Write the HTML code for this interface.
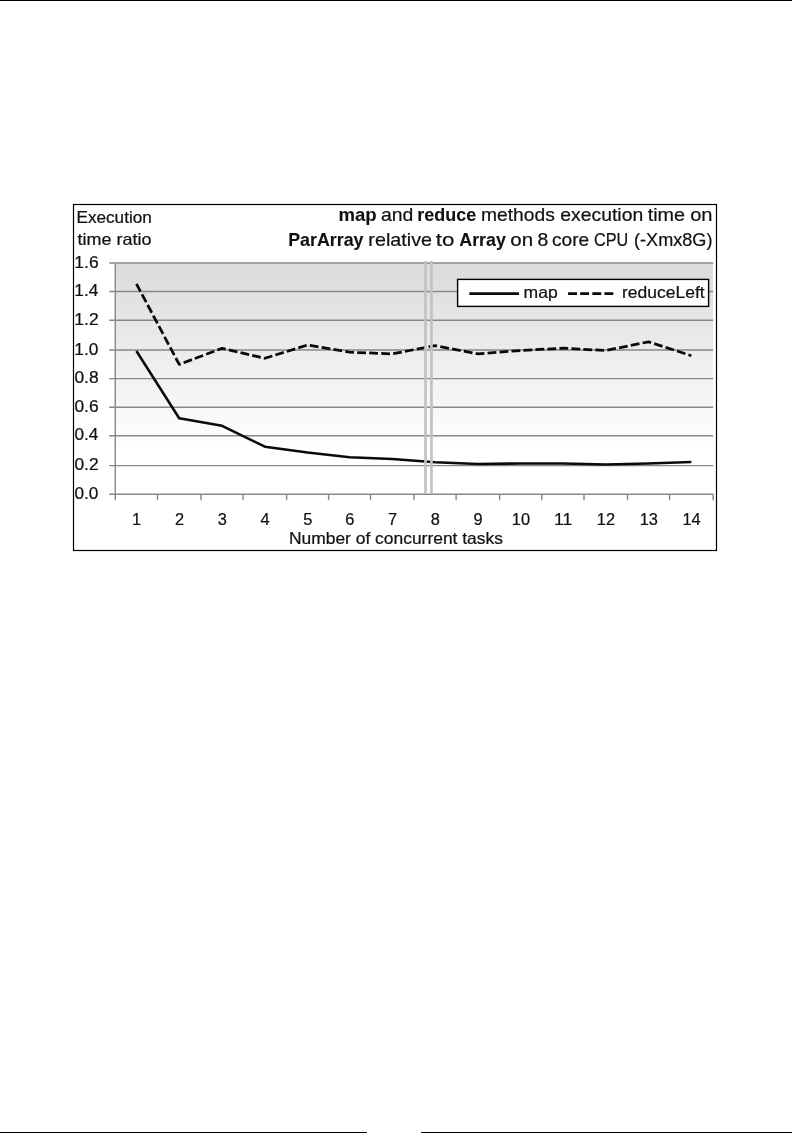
<!DOCTYPE html>
<html lang="en"><head><meta charset="utf-8"><title>ParArray chart</title>
<style>
html,body{margin:0;padding:0;background:#fff;}
body{width:792px;height:1142px;position:relative;overflow:hidden;font-family:"Liberation Sans",sans-serif;}
svg{position:absolute;left:0;top:0;}
text{font-family:"Liberation Sans",sans-serif;fill:#111;stroke:#111;stroke-width:0.22px;}
.b{font-weight:bold;stroke-width:0.1px;}
</style></head><body>
<svg width="792" height="1142" viewBox="0 0 792 1142">
<defs><linearGradient id="g" x1="0" y1="0" x2="0" y2="1">
<stop offset="0" stop-color="#dbdbdb"/><stop offset="0.8" stop-color="#ffffff"/><stop offset="1" stop-color="#ffffff"/></linearGradient></defs>
<rect x="0" y="0" width="792" height="1" fill="#000"/>
<rect x="0" y="1132" width="367" height="1" fill="#000"/>
<rect x="421" y="1132" width="371" height="1" fill="#000"/>
<rect x="73.5" y="204.5" width="643" height="346" fill="#fff" stroke="#000" stroke-width="1.2"/>

<rect x="115.3" y="263.0" width="597.7" height="231.3" fill="url(#g)"/>
<line x1="109.2" x2="713.2" y1="263.0" y2="263.0" stroke="#888888" stroke-width="1.45"/>
<line x1="109.2" x2="713.2" y1="291.4" y2="291.4" stroke="#888888" stroke-width="1.45"/>
<line x1="109.2" x2="713.2" y1="320.2" y2="320.2" stroke="#888888" stroke-width="1.45"/>
<line x1="109.2" x2="713.2" y1="350.0" y2="350.0" stroke="#888888" stroke-width="1.45"/>
<line x1="109.2" x2="713.2" y1="378.6" y2="378.6" stroke="#888888" stroke-width="1.45"/>
<line x1="109.2" x2="713.2" y1="407.3" y2="407.3" stroke="#888888" stroke-width="1.45"/>
<line x1="109.2" x2="713.2" y1="435.8" y2="435.8" stroke="#888888" stroke-width="1.45"/>
<line x1="109.2" x2="713.2" y1="465.6" y2="465.6" stroke="#888888" stroke-width="1.45"/>
<line x1="109.2" x2="713.2" y1="494.3" y2="494.3" stroke="#888888" stroke-width="1.45"/>
<line x1="115.3" x2="115.3" y1="263.0" y2="494.3" stroke="#888888" stroke-width="1.45"/>
<line x1="115.3" x2="115.3" y1="494.3" y2="500.2" stroke="#888888" stroke-width="1.45"/>
<line x1="157.5" x2="157.5" y1="494.3" y2="500.2" stroke="#888888" stroke-width="1.45"/>
<line x1="201.0" x2="201.0" y1="494.3" y2="500.2" stroke="#888888" stroke-width="1.45"/>
<line x1="243.1" x2="243.1" y1="494.3" y2="500.2" stroke="#888888" stroke-width="1.45"/>
<line x1="286.6" x2="286.6" y1="494.3" y2="500.2" stroke="#888888" stroke-width="1.45"/>
<line x1="328.6" x2="328.6" y1="494.3" y2="500.2" stroke="#888888" stroke-width="1.45"/>
<line x1="370.5" x2="370.5" y1="494.3" y2="500.2" stroke="#888888" stroke-width="1.45"/>
<line x1="414.0" x2="414.0" y1="494.3" y2="500.2" stroke="#888888" stroke-width="1.45"/>
<line x1="456.1" x2="456.1" y1="494.3" y2="500.2" stroke="#888888" stroke-width="1.45"/>
<line x1="499.6" x2="499.6" y1="494.3" y2="500.2" stroke="#888888" stroke-width="1.45"/>
<line x1="541.8" x2="541.8" y1="494.3" y2="500.2" stroke="#888888" stroke-width="1.45"/>
<line x1="584.0" x2="584.0" y1="494.3" y2="500.2" stroke="#888888" stroke-width="1.45"/>
<line x1="627.5" x2="627.5" y1="494.3" y2="500.2" stroke="#888888" stroke-width="1.45"/>
<line x1="669.6" x2="669.6" y1="494.3" y2="500.2" stroke="#888888" stroke-width="1.45"/>
<line x1="713.1" x2="713.1" y1="494.3" y2="500.2" stroke="#888888" stroke-width="1.45"/>
<polyline points="136.4,351.0 179.2,418.3 222.1,425.8 264.9,446.7 307.6,452.6 349.6,457.2 392.2,458.9 435.1,462.2 477.9,463.9 520.7,463.5 562.9,463.5 605.8,464.6 648.5,463.5 691.4,462.0" fill="none" stroke="#0a0a0a" stroke-width="2.55" stroke-linejoin="round"/>
<polyline points="136.4,283.8 179.2,364.4 222.1,348.3 264.9,358.3 307.6,345.0 349.6,352.2 392.2,353.9 435.1,345.6 477.9,353.9 520.7,350.5 562.9,348.2 605.8,350.5 648.5,341.8 691.4,355.7" fill="none" stroke="#0a0a0a" stroke-width="2.75" stroke-dasharray="8.8 3.2" stroke-linejoin="round"/>
<line x1="425.5" x2="425.5" y1="261" y2="493.7" stroke="#c2c2c2" stroke-width="2.7"/>
<line x1="431.45" x2="431.45" y1="261" y2="493.7" stroke="#c2c2c2" stroke-width="2.7"/>
<rect x="457.6" y="279.4" width="251" height="27" fill="#fff" stroke="#000" stroke-width="1.4"/>
<line x1="469.4" x2="519" y1="293.6" y2="293.6" stroke="#0a0a0a" stroke-width="2.55"/>
<line x1="568.1" x2="613.5" y1="293.6" y2="293.6" stroke="#0a0a0a" stroke-width="2.55" stroke-dasharray="8.9 3.2"/>
<text x="523.54" y="297.8" textLength="34.11" lengthAdjust="spacingAndGlyphs" font-size="16.5">map</text>
<text x="622.04" y="297.8" textLength="82.61" lengthAdjust="spacingAndGlyphs" font-size="16.5">reduceLeft</text>
<text x="76.50" y="223.0" textLength="75.31" lengthAdjust="spacingAndGlyphs" font-size="16.5">Execution</text>
<text x="77.53" y="245.3" textLength="73.94" lengthAdjust="spacingAndGlyphs" font-size="16.5">time ratio</text>
<text x="74.34" y="267.5" textLength="24.28" lengthAdjust="spacingAndGlyphs" font-size="16">1.6</text>
<text x="74.35" y="295.9" textLength="23.99" lengthAdjust="spacingAndGlyphs" font-size="16">1.4</text>
<text x="74.34" y="324.7" textLength="24.28" lengthAdjust="spacingAndGlyphs" font-size="16">1.2</text>
<text x="74.35" y="354.5" textLength="23.99" lengthAdjust="spacingAndGlyphs" font-size="16">1.0</text>
<text x="74.46" y="383.1" textLength="24.16" lengthAdjust="spacingAndGlyphs" font-size="16">0.8</text>
<text x="74.46" y="411.8" textLength="24.16" lengthAdjust="spacingAndGlyphs" font-size="16">0.6</text>
<text x="74.46" y="440.2" textLength="23.87" lengthAdjust="spacingAndGlyphs" font-size="16">0.4</text>
<text x="74.46" y="470.1" textLength="24.16" lengthAdjust="spacingAndGlyphs" font-size="16">0.2</text>
<text x="74.46" y="498.8" textLength="23.87" lengthAdjust="spacingAndGlyphs" font-size="16">0.0</text>
<text x="288.98" y="543.8" textLength="213.93" lengthAdjust="spacingAndGlyphs" font-size="16.5">Number of concurrent tasks</text>
<text x="338.54" y="221.0" textLength="38.20" lengthAdjust="spacingAndGlyphs" font-size="18.4" class="b">map</text>
<text x="381.01" y="221.0" textLength="32.34" lengthAdjust="spacingAndGlyphs" font-size="18.4">and</text>
<text x="417.28" y="221.0" textLength="58.87" lengthAdjust="spacingAndGlyphs" font-size="18.4" class="b">reduce</text>
<text x="481.09" y="221.0" textLength="73.74" lengthAdjust="spacingAndGlyphs" font-size="18.4">methods</text>
<text x="560.31" y="221.0" textLength="82.89" lengthAdjust="spacingAndGlyphs" font-size="18.4">execution</text>
<text x="647.73" y="221.0" textLength="37.38" lengthAdjust="spacingAndGlyphs" font-size="18.4">time</text>
<text x="690.18" y="221.0" textLength="22.35" lengthAdjust="spacingAndGlyphs" font-size="18.4">on</text>
<text x="288.19" y="246.4" textLength="75.31" lengthAdjust="spacingAndGlyphs" font-size="18.4" class="b">ParArray</text>
<text x="368.36" y="246.4" textLength="63.70" lengthAdjust="spacingAndGlyphs" font-size="18.4">relative</text>
<text x="435.70" y="246.4" textLength="18.63" lengthAdjust="spacingAndGlyphs" font-size="18.4">to</text>
<text x="459.32" y="246.4" textLength="46.54" lengthAdjust="spacingAndGlyphs" font-size="18.4" class="b">Array</text>
<text x="510.36" y="246.4" textLength="22.90" lengthAdjust="spacingAndGlyphs" font-size="18.4">on</text>
<text x="537.51" y="246.4" textLength="10.76" lengthAdjust="spacingAndGlyphs" font-size="18.4">8</text>
<text x="552.02" y="246.4" textLength="37.09" lengthAdjust="spacingAndGlyphs" font-size="18.4">core</text>
<text x="594.02" y="246.4" textLength="34.16" lengthAdjust="spacingAndGlyphs" font-size="18.4">CPU</text>
<text x="634.07" y="246.4" textLength="78.40" lengthAdjust="spacingAndGlyphs" font-size="18.4">(-Xmx8G)</text>
<text x="136.60" y="524.7" text-anchor="middle" textLength="9.10" lengthAdjust="spacingAndGlyphs" font-size="16">1</text>
<text x="179.45" y="524.7" text-anchor="middle" textLength="9.10" lengthAdjust="spacingAndGlyphs" font-size="16">2</text>
<text x="222.25" y="524.7" text-anchor="middle" textLength="9.10" lengthAdjust="spacingAndGlyphs" font-size="16">3</text>
<text x="265.05" y="524.7" text-anchor="middle" textLength="9.10" lengthAdjust="spacingAndGlyphs" font-size="16">4</text>
<text x="307.80" y="524.7" text-anchor="middle" textLength="9.10" lengthAdjust="spacingAndGlyphs" font-size="16">5</text>
<text x="349.75" y="524.7" text-anchor="middle" textLength="9.10" lengthAdjust="spacingAndGlyphs" font-size="16">6</text>
<text x="392.45" y="524.7" text-anchor="middle" textLength="9.10" lengthAdjust="spacingAndGlyphs" font-size="16">7</text>
<text x="435.25" y="524.7" text-anchor="middle" textLength="9.10" lengthAdjust="spacingAndGlyphs" font-size="16">8</text>
<text x="478.05" y="524.7" text-anchor="middle" textLength="9.10" lengthAdjust="spacingAndGlyphs" font-size="16">9</text>
<text x="520.90" y="524.7" text-anchor="middle" textLength="18.20" lengthAdjust="spacingAndGlyphs" font-size="16">10</text>
<text x="563.10" y="524.7" text-anchor="middle" textLength="18.20" lengthAdjust="spacingAndGlyphs" font-size="16">11</text>
<text x="605.95" y="524.7" text-anchor="middle" textLength="18.20" lengthAdjust="spacingAndGlyphs" font-size="16">12</text>
<text x="648.75" y="524.7" text-anchor="middle" textLength="18.20" lengthAdjust="spacingAndGlyphs" font-size="16">13</text>
<text x="691.55" y="524.7" text-anchor="middle" textLength="18.20" lengthAdjust="spacingAndGlyphs" font-size="16">14</text>
</svg></body></html>
